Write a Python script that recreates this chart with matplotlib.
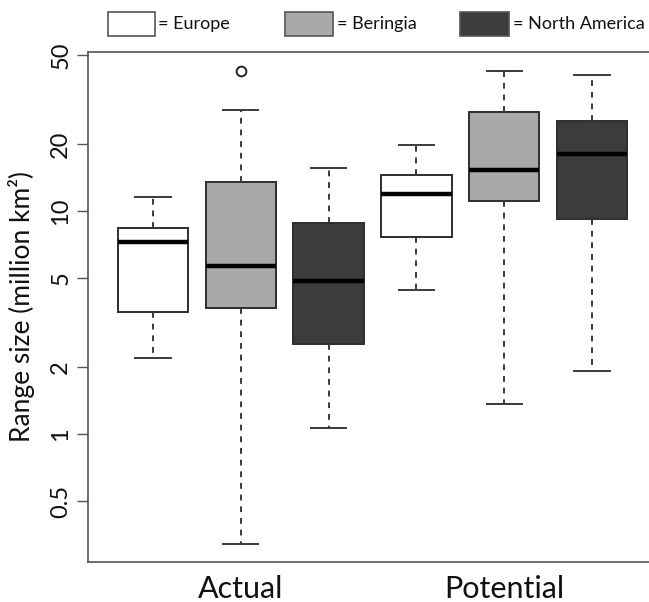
import matplotlib
matplotlib.use("Agg")
import matplotlib.pyplot as plt
from matplotlib.patches import Rectangle

# ---- data (million km^2) ----
groups = ["Actual", "Potential"]
regions = ["Europe", "Beringia", "North America"]
region_colors = ["#ffffff", "#a9a9a9", "#3c3c3c"]

# order: Actual(Europe, Beringia, NA), Potential(Europe, Beringia, NA)
whislo = [2.19, 0.32, 1.07, 4.42, 1.36, 1.92]
q1     = [3.52, 3.67, 2.53, 7.65, 11.1, 9.2]
med    = [7.26, 5.67, 4.86, 11.9, 15.3, 18.0]
q3     = [8.39, 13.5, 8.84, 14.5, 27.8, 25.3]
whishi = [11.6, 28.4, 15.6, 19.8, 42.4, 40.7]
fliers = [[], [42.4], [], [], [], []]

yticks = [0.5, 1, 2, 5, 10, 20, 50]
ytick_labels = ["0.5", "1", "2", "5", "10", "20", "50"]
ylabel = "Range size (million km²)"

W, H = 649, 602
fig = plt.figure(figsize=(W / 100, H / 100), dpi=100)
plt.rcParams['font.family'] = ['Lato', 'DejaVu Sans']

ax = fig.add_axes([88 / W, 1 - 562 / H, (657 - 88) / W, (562 - 52) / H])

stats = []
for i in range(6):
    stats.append(dict(whislo=whislo[i], q1=q1[i], med=med[i], q3=q3[i],
                      whishi=whishi[i], fliers=fliers[i]))
positions = list(range(1, 7))
bp = ax.bxp(stats, positions=positions, widths=0.8, capwidths=0.4,
            patch_artist=True, showfliers=True,
            boxprops=dict(edgecolor="#2e2e2e", linewidth=1.4),
            whiskerprops=dict(color="#3a3a3a", linewidth=1.4, linestyle=(0, (3, 3))),
            capprops=dict(color="#3a3a3a", linewidth=1.4),
            medianprops=dict(color="black", linewidth=3.2, solid_capstyle="butt"),
            flierprops=dict(marker="o", markerfacecolor="none",
                            markeredgecolor="#222222", markersize=7, markeredgewidth=1.4))
for i, patch in enumerate(bp["boxes"]):
    patch.set_facecolor(region_colors[i % 3])

ax.set_yscale("log")
ax.set_ylim(0.267, 51.6)
ax.set_xlim(0.26, 6.74)
ax.set_yticks(yticks)
ax.set_yticklabels(ytick_labels)
ax.yaxis.set_minor_locator(matplotlib.ticker.NullLocator())
ax.tick_params(axis="y", length=8, width=1, color="#555555", labelsize=17, pad=4,
               labelrotation=90, labelcolor="#111111")
for lbl in ax.get_yticklabels():
    lbl.set_va("center")

ax.set_xticks([2, 5])
ax.set_xticklabels(groups)
ax.tick_params(axis="x", length=0, labelsize=22, pad=9, labelcolor="#111111")

for side in ["left", "top", "bottom"]:
    ax.spines[side].set_color("#555555")
    ax.spines[side].set_linewidth(1.2)
ax.spines["right"].set_visible(False)

ax.set_ylabel(ylabel, fontsize=19, color="#111111")
ax.yaxis.set_label_coords((35 - 88) / (657 - 88), 0.5)

# ---- legend row on top ----
leg_boxes = [(108, 155), (285, 333), (460, 509)]
leg_text_x = [158, 337, 513]
for i, reg in enumerate(regions):
    x0, x1 = leg_boxes[i]
    fig.patches.append(Rectangle((x0 / W, 1 - 36 / H), (x1 - x0) / W, 24 / H,
                                 transform=fig.transFigure, facecolor=region_colors[i],
                                 edgecolor="#555555", linewidth=1.2))
    fig.text(leg_text_x[i] / W, 1 - 24 / H, "= " + reg, fontsize=13,
             va="center", ha="left", color="#111111")

fig.savefig("out.png", dpi=100)
